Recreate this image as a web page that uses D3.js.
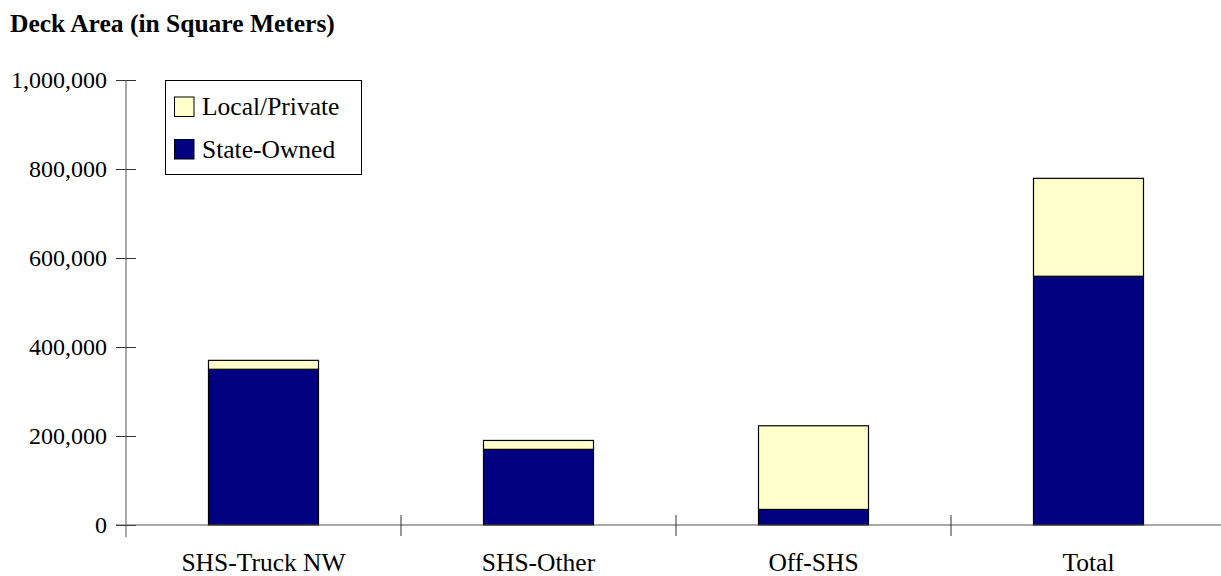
<!DOCTYPE html>
<html>
<head>
<meta charset="utf-8">
<script src="https://cdn.jsdelivr.net/npm/d3@7/dist/d3.min.js"></script>
<style>
  html, body { margin: 0; padding: 0; background: #fff; }
  svg { display: block; }
  text { font-family: "Liberation Serif", "DejaVu Serif", serif; fill: #000; }
</style>
</head>
<body>
<svg id="chart" width="1221" height="576"></svg>
<script>
// Deck area by system, split by ownership
const categories = ["SHS-Truck NW", "SHS-Other", "Off-SHS", "Total"];
const stateOwned = [350000, 170000, 35000, 559000];
const localPrivate = [20000, 20000, 188000, 220000];
const yTicks = [0, 200000, 400000, 600000, 800000, 1000000];
const seriesNames = ["Local/Private", "State-Owned"];
const seriesColors = ["#FFFFCC", "#000080"];

const svg = d3.select("#chart");
const W = 1221;
const plotLeft = 126, plotRight = 1226, plotTop = 80, plotBottom = 525;

const x = d3.scaleBand().domain(categories).range([plotLeft, plotRight])
  .paddingInner(0.6).paddingOuter(0.3);
const y = d3.scaleLinear().domain([0, 1000000]).range([plotBottom, plotTop]);

// title
svg.append("text").attr("x", 10).attr("y", 32)
  .attr("font-weight", "bold").attr("font-size", 25.5)
  .text("Deck Area (in Square Meters)");

// stacked bars
const rows = categories.map((c, i) => ({ cat: c, state: stateOwned[i], local: localPrivate[i] }));
const stack = d3.stack().keys(["state", "local"])(rows);
const fills = { state: seriesColors[1], local: seriesColors[0] };

svg.append("g").selectAll("g").data(stack).join("g")
  .attr("fill", d => fills[d.key])
  .selectAll("rect").data(d => d).join("rect")
  .attr("x", d => x(d.data.cat))
  .attr("width", x.bandwidth())
  .attr("y", d => y(d[1]))
  .attr("height", d => y(d[0]) - y(d[1]))
  .attr("stroke", "#000").attr("stroke-width", 1.2);

// y axis
const yAxis = svg.append("g").attr("transform", `translate(${plotLeft},0)`)
  .call(d3.axisLeft(y).tickValues(yTicks).tickSize(10)
    .tickFormat(d3.format(",")).tickPadding(9));
yAxis.select(".domain").remove();
yAxis.selectAll(".tick line").attr("x2", 10).attr("x1", -10).attr("stroke", "#333");
yAxis.selectAll(".tick text").attr("font-size", 24)
  .attr("font-family", "Liberation Serif, serif").attr("x", -19);
svg.append("line").attr("x1", plotLeft).attr("x2", plotLeft)
  .attr("y1", plotTop).attr("y2", plotBottom + 12).attr("stroke", "#555");

// x axis
svg.append("line").attr("x1", plotLeft - 10).attr("x2", W)
  .attr("y1", plotBottom).attr("y2", plotBottom).attr("stroke", "#555");
const step = x.step();
svg.append("g").selectAll("line").data(categories.slice(1)).join("line")
  .attr("x1", c => x(c) - (step - x.bandwidth()) / 2)
  .attr("x2", c => x(c) - (step - x.bandwidth()) / 2)
  .attr("y1", plotBottom - 10).attr("y2", plotBottom + 11).attr("stroke", "#333");
svg.append("g").selectAll("text").data(categories).join("text")
  .attr("x", c => x(c) + x.bandwidth() / 2)
  .attr("y", 571)
  .attr("text-anchor", "middle").attr("font-size", 25.5)
  .text(c => c);

// legend
const lg = svg.append("g");
lg.append("rect").attr("x", 165.5).attr("y", 80.5).attr("width", 196).attr("height", 94)
  .attr("fill", "#fff").attr("stroke", "#000");
seriesNames.forEach((n, i) => {
  const yy = 97 + i * 42.5;
  lg.append("rect").attr("x", 174.5).attr("y", yy).attr("width", 19.5).attr("height", 19.5)
    .attr("fill", seriesColors[i]).attr("stroke", "#000");
  lg.append("text").attr("x", 202).attr("y", yy + 18).attr("font-size", 25.5).text(n);
});
</script>
</body>
</html>
